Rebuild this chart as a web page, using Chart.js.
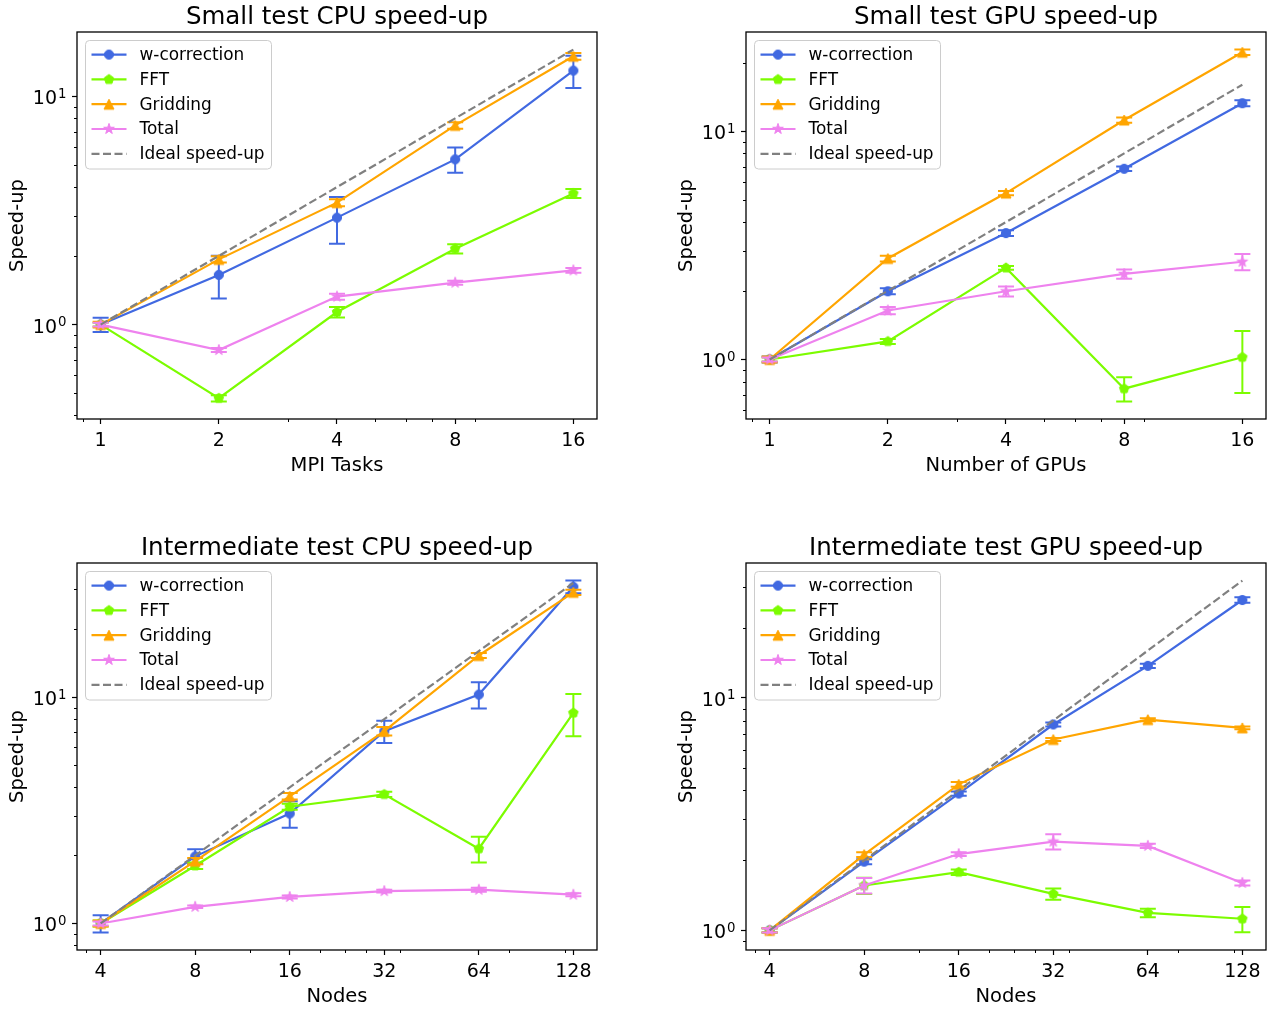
<!DOCTYPE html>
<html>
<head>
<meta charset="utf-8">
<title>Speed-up</title>
<script src="https://cdn.jsdelivr.net/npm/chart.js@4.4.1/dist/chart.umd.min.js"></script>
<style>
  html, body { margin: 0; padding: 0; background: #ffffff; overflow: hidden; }
  #figure { position: relative; width: 1274px; height: 1012px; }
  #figure canvas { position: absolute; }
</style>
</head>
<body>
<div id="figure">
  <canvas id="smallCpuChart" width="609" height="480" style="left:0px;top:0px"></canvas>
  <canvas id="smallGpuChart" width="605" height="480" style="left:669px;top:0px"></canvas>
  <canvas id="interCpuChart" width="609" height="480" style="left:0px;top:531px"></canvas>
  <canvas id="interGpuChart" width="605" height="480" style="left:669px;top:531px"></canvas>
</div>
<script>
// x categories
const mpiTasks = [1, 2, 4, 8, 16];
const gpuCounts = [1, 2, 4, 8, 16];
const nodeCounts = [4, 8, 16, 32, 64, 128];

// Small test CPU speed-up
const smallCpuWcorr = [1.0, 1.65, 2.94, 5.29, 12.95];
const smallCpuWcorrErr = [0.072, 0.35, 0.68, 0.67, 2.1];
const smallCpuFft = [1.0, 0.476, 1.135, 2.15, 3.75];
const smallCpuFftErr = [0.02, 0.015, 0.06, 0.1, 0.17];
const smallCpuGrid = [1.0, 1.93, 3.42, 7.45, 14.96];
const smallCpuGridErr = [0.03, 0.06, 0.12, 0.25, 0.5];
const smallCpuTotal = [1.0, 0.774, 1.326, 1.526, 1.728];
const smallCpuTotalErr = [0.02, 0.015, 0.04, 0.03, 0.04];
const smallCpuIdeal = [1, 2, 4, 8, 16];

// Small test GPU speed-up
const smallGpuWcorr = [1.0, 1.99, 3.58, 6.85, 13.27];
const smallGpuWcorrErr = [0.03, 0.06, 0.1, 0.15, 0.4];
const smallGpuFft = [1.0, 1.2, 2.52, 0.745, 1.023];
const smallGpuFftErr = [0.02, 0.03, 0.05, 0.09, 0.31];
const smallGpuGrid = [1.0, 2.77, 5.36, 11.2, 22.2];
const smallGpuGridErr = [0.03, 0.08, 0.12, 0.3, 0.6];
const smallGpuTotal = [1.0, 1.64, 1.99, 2.37, 2.68];
const smallGpuTotalErr = [0.02, 0.06, 0.1, 0.11, 0.22];
const smallGpuIdeal = [1, 2, 4, 8, 16];

// Intermediate test CPU speed-up
const interCpuWcorr = [1.0, 1.98, 3.06, 7.08, 10.28, 30.8];
const interCpuWcorrErr = [0.087, 0.15, 0.41, 0.8, 1.36, 2.0];
const interCpuFft = [1.0, 1.8, 3.28, 3.72, 2.14, 8.53];
const interCpuFftErr = [0.03, 0.06, 0.1, 0.1, 0.28, 1.8];
const interCpuGrid = [1.0, 1.885, 3.65, 7.08, 15.3, 29.1];
const interCpuGridErr = [0.03, 0.06, 0.12, 0.3, 0.4, 0.8];
const interCpuTotal = [1.0, 1.185, 1.31, 1.39, 1.41, 1.34];
const interCpuTotalErr = [0.02, 0.015, 0.02, 0.02, 0.03, 0.02];
const interIdeal = [1, 2, 4, 8, 16, 32];

// Intermediate test GPU speed-up
const interGpuWcorr = [1.0, 1.975, 3.88, 7.69, 13.75, 26.4];
const interGpuWcorrErr = [0.02, 0.05, 0.08, 0.15, 0.3, 0.7];
const interGpuFft = [1.0, 1.56, 1.78, 1.436, 1.19, 1.122];
const interGpuFftErr = [0.02, 0.125, 0.05, 0.08, 0.05, 0.14];
const interGpuGrid = [1.0, 2.12, 4.25, 6.63, 8.07, 7.44];
const interGpuGridErr = [0.02, 0.05, 0.1, 0.1, 0.12, 0.1];
const interGpuTotal = [1.0, 1.56, 2.13, 2.41, 2.31, 1.60];
const interGpuTotalErr = [0.02, 0.12, 0.04, 0.18, 0.05, 0.04];

// layout of each panel inside its canvas
const AX_LEFT = 77;
const AX_TOP = 32;
const AX_W = 520;
const AX_H = 387;
const XAXIS_H = 59;
const FONT = "'DejaVu Sans', 'Liberation Sans', sans-serif";

// markers
function markerCanvas(color, draw) {
    const c = document.createElement('canvas');
    c.width = 16;
    c.height = 16;
    const g = c.getContext('2d');
    g.translate(8, 8);
    g.fillStyle = color;
    g.strokeStyle = color;
    g.lineWidth = 1;
    g.beginPath();
    draw(g);
    g.closePath();
    g.fill();
    g.stroke();
    return c;
}
function circlePath(g) { g.arc(0, 0, 4.6, 0, Math.PI * 2); }
function trianglePath(g) { g.moveTo(0, -5); g.lineTo(5, 5); g.lineTo(-5, 5); }
function pentagonPath(g) {
    for (let k = 0; k < 5; k++) {
        const a = -Math.PI / 2 + k * 2 * Math.PI / 5;
        g.lineTo(5 * Math.cos(a), 5 * Math.sin(a));
    }
}
function starPath(g) {
    for (let k = 0; k < 10; k++) {
        const a = -Math.PI / 2 + k * Math.PI / 5;
        const r = k % 2 === 0 ? 5.6 : 2.2;
        g.lineTo(r * Math.cos(a), r * Math.sin(a));
    }
}

const seriesStyles = [
    { label: 'w-correction', color: '#4169e1', marker: markerCanvas('#4169e1', circlePath), order: 5 },
    { label: 'FFT', color: '#7cfc00', marker: markerCanvas('#7cfc00', pentagonPath), order: 4 },
    { label: 'Gridding', color: '#ffa500', marker: markerCanvas('#ffa500', trianglePath), order: 3 },
    { label: 'Total', color: '#ee82ee', marker: markerCanvas('#ee82ee', starPath), order: 2 },
    { label: 'Ideal speed-up', color: '#808080', marker: null, order: 1 }
];

function logLimits(lo, hi) {
    const a = Math.log10(lo), b = Math.log10(hi), m = (b - a) * 0.05;
    return [Math.pow(10, a - m), Math.pow(10, b + m)];
}

// error bars, spines, minor ticks, power-of-ten labels, title and legend
const CAP = 8;
const decorPlugin = {
    id: 'decor',
    beforeDatasetDraw(chart, args) {
        const ds = chart.data.datasets[args.index];
        if (!ds.errors) return;
        const xs = chart.scales.x, ys = chart.scales.y, ctx = chart.ctx;
        ctx.save();
        ctx.strokeStyle = ds.borderColor;
        ctx.lineWidth = 2;
        ds.data.forEach((p, i) => {
            const e = ds.errors[i];
            const px = xs.getPixelForValue(p.x);
            const top = ys.getPixelForValue(p.y + e);
            const bot = ys.getPixelForValue(p.y - e);
            ctx.beginPath();
            ctx.moveTo(px, top); ctx.lineTo(px, bot);
            ctx.moveTo(px - CAP, top); ctx.lineTo(px + CAP, top);
            ctx.moveTo(px - CAP, bot); ctx.lineTo(px + CAP, bot);
            ctx.stroke();
        });
        ctx.restore();
    },
    afterDraw(chart) {
        const ctx = chart.ctx, area = chart.chartArea;
        const xs = chart.scales.x, ys = chart.scales.y;
        const opts = chart.options.panel;
        ctx.save();

        // minor ticks
        ctx.strokeStyle = '#000';
        ctx.lineWidth = 1;
        const xMajor = xs.ticks.map(t => t.value);
        for (let k = -2; k <= 3; k++) {
            for (let m = 2; m <= 9; m++) {
                const vx = opts.xMinorBase * m * Math.pow(10, k);
                if (vx > xs.min && vx < xs.max && !xMajor.some(t => Math.abs(t - vx) < 1e-9)) {
                    const px = Math.round(xs.getPixelForValue(vx)) + 0.5;
                    ctx.beginPath(); ctx.moveTo(px, area.bottom); ctx.lineTo(px, area.bottom + 3); ctx.stroke();
                }
                const vy = m * Math.pow(10, k);
                if (vy > ys.min && vy < ys.max) {
                    const py = Math.round(ys.getPixelForValue(vy)) + 0.5;
                    ctx.beginPath(); ctx.moveTo(area.left, py); ctx.lineTo(area.left - 3, py); ctx.stroke();
                }
            }
        }

        // spines
        ctx.lineWidth = 1.3;
        ctx.strokeRect(area.left, area.top, area.right - area.left, area.bottom - area.top);

        // y tick labels as 10 with a raised exponent
        ctx.fillStyle = '#000';
        ctx.textBaseline = 'alphabetic';
        ctx.textAlign = 'left';
        ys.ticks.forEach(t => {
            const py = ys.getPixelForValue(t.value);
            const exp = String(Math.round(Math.log10(t.value)));
            ctx.font = '13.3px ' + FONT;
            const ew = ctx.measureText(exp).width;
            ctx.font = '19px ' + FONT;
            const bw = ctx.measureText('10').width;
            const right = area.left - 10.5;
            ctx.fillText('10', right - ew - 1 - bw, py + 8);
            ctx.font = '13.3px ' + FONT;
            ctx.fillText(exp, right - ew, py + 1.4);
        });

        // title centred over the axes
        ctx.font = '24.5px ' + FONT;
        ctx.textAlign = 'center';
        ctx.fillText(opts.title, (area.left + area.right) / 2, 24);

        // legend
        const lx = area.left + 8.5, ly = area.top + 8.5, lw = 186, lh = 128.5;
        ctx.fillStyle = 'rgba(255,255,255,0.8)';
        ctx.strokeStyle = '#cccccc';
        ctx.lineWidth = 1;
        ctx.beginPath();
        ctx.roundRect(lx, ly, lw, lh, 4);
        ctx.fill();
        ctx.stroke();
        ctx.font = '16.9px ' + FONT;
        ctx.textBaseline = 'middle';
        ctx.textAlign = 'left';
        chart.data.datasets.forEach((ds, i) => {
            const ry = ly + 14.1 + i * 24.8;
            ctx.strokeStyle = ds.borderColor;
            ctx.lineWidth = 2.2;
            ctx.setLineDash(ds.borderDash || []);
            ctx.beginPath();
            ctx.moveTo(lx + 6, ry);
            ctx.lineTo(lx + 41, ry);
            ctx.stroke();
            ctx.setLineDash([]);
            if (ds.pointStyle instanceof HTMLCanvasElement) {
                ctx.drawImage(ds.pointStyle, lx + 23.5 - 8, ry - 8);
            }
            ctx.fillStyle = '#000';
            ctx.fillText(ds.label, lx + 54, ry + 1);
        });
        ctx.restore();
    }
};

function buildPanel(canvasId, titleText, xLabel, xValues, series) {
    const canvas = document.getElementById(canvasId);
    if (!canvas) return;

    const datasets = series.map((s, i) => {
        const st = seriesStyles[i];
        return {
            label: st.label,
            data: xValues.map((x, j) => ({ x: x, y: s.values[j] })),
            errors: s.errors || null,
            borderColor: st.color,
            backgroundColor: st.color,
            borderWidth: 2.2,
            borderDash: st.marker ? [] : [8, 3.5],
            pointStyle: st.marker || 'circle',
            pointRadius: st.marker ? 5 : 0,
            pointHoverRadius: st.marker ? 5 : 0,
            tension: 0,
            order: st.order
        };
    });

    // axis limits from the data, like matplotlib's 5% log margins
    let lo = Infinity, hi = -Infinity;
    series.forEach(s => s.values.forEach((v, j) => {
        const e = s.errors ? s.errors[j] : 0;
        lo = Math.min(lo, v - e);
        hi = Math.max(hi, v + e);
    }));
    const [yMin, yMax] = logLimits(lo, hi);
    const [xMin, xMax] = logLimits(Math.min(...xValues), Math.max(...xValues));
    const yMajor = [];
    for (let k = -2; k <= 3; k++) {
        const v = Math.pow(10, k);
        if (v >= yMin && v <= yMax) yMajor.push(v);
    }

    const tickFont = { family: FONT, size: 19 };
    const labelFont = { family: FONT, size: 19.5 };

    new Chart(canvas, {
        type: 'line',
        data: { datasets: datasets },
        options: {
            responsive: false,
            animation: false,
            events: [],
            panel: { title: titleText, xMinorBase: xValues[0] },
            layout: {
                padding: {
                    left: 0,
                    top: AX_TOP,
                    right: canvas.width - AX_LEFT - AX_W,
                    bottom: canvas.height - AX_TOP - AX_H - XAXIS_H
                }
            },
            scales: {
                x: {
                    type: 'logarithmic',
                    min: xMin,
                    max: xMax,
                    bounds: 'data',
                    afterBuildTicks: (axis) => { axis.ticks = xValues.map(v => ({ value: v })); },
                    afterFit: (axis) => { axis.height = XAXIS_H; },
                    ticks: {
                        autoSkip: false,
                        maxRotation: 0,
                        padding: 6,
                        color: '#000',
                        font: tickFont,
                        callback: (v) => String(v)
                    },
                    grid: { display: true, drawOnChartArea: false, drawTicks: true, tickLength: 5, tickColor: '#000', tickWidth: 1.2 },
                    border: { display: false },
                    title: { display: true, text: xLabel, color: '#000', font: labelFont, padding: { top: 0, bottom: 0 } }
                },
                y: {
                    type: 'logarithmic',
                    min: yMin,
                    max: yMax,
                    bounds: 'data',
                    afterBuildTicks: (axis) => { axis.ticks = yMajor.map(v => ({ value: v })); },
                    afterFit: (axis) => { axis.width = AX_LEFT; },
                    ticks: { display: false, autoSkip: false },
                    grid: { display: true, drawOnChartArea: false, drawTicks: true, tickLength: 5, tickColor: '#000', tickWidth: 1.2 },
                    border: { display: false },
                    title: { display: true, text: 'Speed-up', color: '#000', font: labelFont, padding: { top: 5.8, bottom: 0 } }
                }
            },
            plugins: {
                legend: { display: false },
                tooltip: { enabled: false },
                title: { display: false }
            }
        },
        plugins: [decorPlugin]
    });
}

// Small test CPU chart
buildPanel('smallCpuChart', 'Small test CPU speed-up', 'MPI Tasks', mpiTasks, [
    { values: smallCpuWcorr, errors: smallCpuWcorrErr },
    { values: smallCpuFft, errors: smallCpuFftErr },
    { values: smallCpuGrid, errors: smallCpuGridErr },
    { values: smallCpuTotal, errors: smallCpuTotalErr },
    { values: smallCpuIdeal }
]);

// Small test GPU chart
buildPanel('smallGpuChart', 'Small test GPU speed-up', 'Number of GPUs', gpuCounts, [
    { values: smallGpuWcorr, errors: smallGpuWcorrErr },
    { values: smallGpuFft, errors: smallGpuFftErr },
    { values: smallGpuGrid, errors: smallGpuGridErr },
    { values: smallGpuTotal, errors: smallGpuTotalErr },
    { values: smallGpuIdeal }
]);

// Intermediate test CPU chart
buildPanel('interCpuChart', 'Intermediate test CPU speed-up', 'Nodes', nodeCounts, [
    { values: interCpuWcorr, errors: interCpuWcorrErr },
    { values: interCpuFft, errors: interCpuFftErr },
    { values: interCpuGrid, errors: interCpuGridErr },
    { values: interCpuTotal, errors: interCpuTotalErr },
    { values: interIdeal }
]);

// Intermediate test GPU chart
buildPanel('interGpuChart', 'Intermediate test GPU speed-up', 'Nodes', nodeCounts, [
    { values: interGpuWcorr, errors: interGpuWcorrErr },
    { values: interGpuFft, errors: interGpuFftErr },
    { values: interGpuGrid, errors: interGpuGridErr },
    { values: interGpuTotal, errors: interGpuTotalErr },
    { values: interIdeal }
]);
</script>
</body>
</html>
